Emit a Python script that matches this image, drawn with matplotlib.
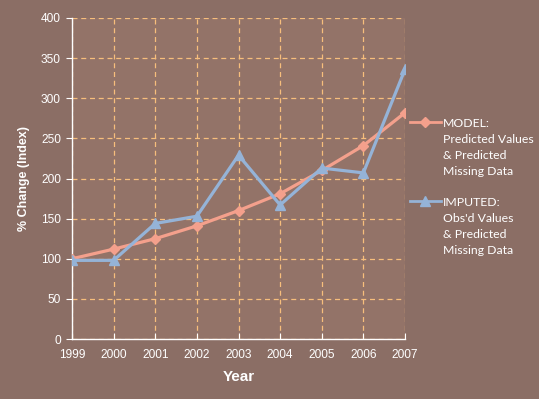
import matplotlib
matplotlib.use("Agg")
import matplotlib.pyplot as plt

years = [1999, 2000, 2001, 2002, 2003, 2004, 2005, 2006, 2007]
model = [100, 112, 125, 141, 160, 181, 210, 241, 282]
imputed = [98, 98, 144, 153, 229, 167, 213, 207, 336]
labels = ["MODEL:\nPredicted Values\n& Predicted\nMissing Data",
          "IMPUTED:\nObs'd Values\n& Predicted\nMissing Data"]
yticks = [0, 50, 100, 150, 200, 250, 300, 350, 400]

FIG_BG = "#8B6E65"
AX_BG = "#937368"
GRID = "#F7BE7C"
C_MODEL = "#F4A08C"
C_IMP = "#95B3D7"

fig = plt.figure(figsize=(5.39, 3.99), dpi=100, facecolor=FIG_BG)
ax = fig.add_axes([72/539, 60/399, 333/539, 321/399])
ax.set_facecolor(AX_BG)

ax.plot(years, model, color=C_MODEL, lw=2.3, marker="D", ms=5.5,
        mec=C_MODEL, mfc=C_MODEL, label=labels[0], zorder=3)
ax.plot(years, imputed, color=C_IMP, lw=2.3, marker="^", ms=7.5,
        mec=C_IMP, mfc=C_IMP, label=labels[1], zorder=4)

ax.set_xlim(years[0], years[-1])
ax.set_ylim(0, 400)
ax.set_xticks(years)
ax.set_yticks(yticks)
ax.grid(True, color=GRID, ls=(0, (4, 3)), lw=0.9)
ax.set_axisbelow(True)
for s in ["top", "right"]:
    ax.spines[s].set_visible(False)
for s in ["left", "bottom"]:
    ax.spines[s].set_color("white")
    ax.spines[s].set_linewidth(1.0)
ax.tick_params(axis="y", colors="white", direction="out", length=4, labelsize=8.6, pad=4)
ax.tick_params(axis="x", colors="white", direction="in", length=4, labelsize=8.6, pad=7)
for t in ax.get_xticklabels() + ax.get_yticklabels():
    t.set_fontfamily("Liberation Sans")

ax.set_xlabel("Year", color="white", fontsize=11, fontweight="bold",
              fontfamily="Liberation Sans", labelpad=7)
ax.set_ylabel("% Change (Index)", color="white", fontsize=9, fontweight="bold",
              fontfamily="Liberation Sans", labelpad=8)

leg = fig.legend(loc="upper left", bbox_to_anchor=(410/539, 1 - 118/399),
                 frameon=False, prop={"family": "Lato", "size": 8.8},
                 labelcolor="white", handlelength=2.5, handletextpad=0.2,
                 labelspacing=1.65, borderpad=0, borderaxespad=0)
for t in leg.get_texts():
    t.set_linespacing(1.55)
for col in leg._legend_handle_box.get_children():
    for row in col.get_children():
        row.align = "top"
for h in leg.legend_handles:
    h.set_linewidth(2)

fig.savefig("out.png", dpi=100, facecolor=FIG_BG)
